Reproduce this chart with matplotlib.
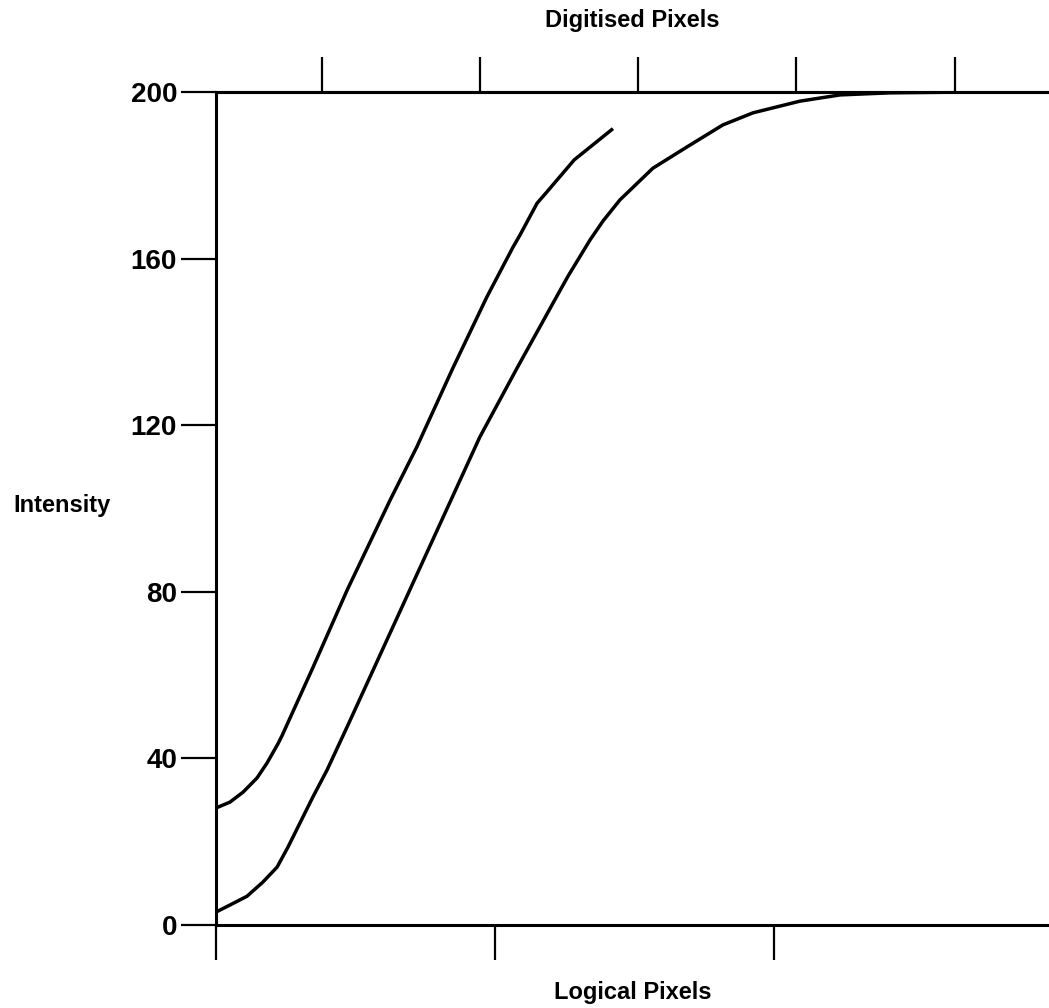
import matplotlib
matplotlib.use("Agg")
import matplotlib.pyplot as plt

my_dpi = 100
plt.rcParams['font.family'] = ['Liberation Sans', 'DejaVu Sans']
plt.rcParams['font.weight'] = 'bold'

# curve data (logical pixels vs intensity)
upper_x = [0, 0.05, 0.097, 0.147, 0.183, 0.222, 0.237, 0.348, 0.47, 0.624,
           0.72, 0.849, 0.971, 1.065, 1.09, 1.151, 1.186, 1.284, 1.423]
upper_y = [28.1, 29.5, 31.9, 35.3, 38.9, 43.5, 45.5, 61.9, 80.4, 102,
           114.8, 133.7, 150.8, 162.8, 165.7, 173.3, 176, 183.7, 191.2]

lower_x = [0, 0.05, 0.111, 0.168, 0.219, 0.258, 0.301, 0.347, 0.398, 0.473,
           0.706, 0.946, 1.079, 1.208, 1.262, 1.341, 1.387, 1.448,
           1.566, 1.688, 1.817, 1.925, 2.093, 2.237, 2.416, 2.7, 2.99]
lower_y = [3.1, 4.8, 6.9, 10.3, 13.9, 18.7, 24.5, 30.7, 37.2, 48,
           82.1, 117.2, 133.7, 149.3, 155.8, 164.5, 169, 174.1,
           181.7, 186.8, 192.1, 195, 197.8, 199.3, 199.8, 200, 200]

y_ticks = [0, 40, 80, 120, 160, 200]
bottom_ticks = [0, 1, 2]
top_ticks = [0.38, 0.946, 1.513, 2.079, 2.649]

fig = plt.figure(figsize=(1049/my_dpi, 1008/my_dpi), dpi=my_dpi)
ax = fig.add_axes([216/1049, 1 - 925/1008, 1 - 216/1049, (925 - 92)/1008])

ax.plot(upper_x, upper_y, color='black', linewidth=2.5,
        solid_joinstyle='round', solid_capstyle='butt')
ax.plot(lower_x, lower_y, color='black', linewidth=2.5,
        solid_joinstyle='round', solid_capstyle='butt')

ax.set_xlim(0, 2.986)
ax.set_ylim(0, 200)

for side in ['left', 'bottom', 'top']:
    ax.spines[side].set_linewidth(2.2)
ax.spines['right'].set_visible(False)

ax.set_yticks(y_ticks)
ax.set_yticklabels([str(v) for v in y_ticks], fontsize=20, fontweight='bold')
ax.set_xticks(bottom_ticks)
ax.set_xticklabels([])
ax.tick_params(axis='both', direction='out', length=25, width=1.6, pad=3)

top = ax.secondary_xaxis('top')
top.set_xticks(top_ticks)
top.set_xticklabels([])
top.tick_params(direction='out', length=25, width=1.6)
top.spines['top'].set_linewidth(2.2)
top.set_xlabel('Digitised Pixels', fontsize=17, fontweight='bold', labelpad=18)

ax.set_xlabel('Logical Pixels', fontsize=17, fontweight='bold', labelpad=12)
ax.set_ylabel('Intensity', fontsize=17, fontweight='bold', rotation=0,
              ha='center', va='center')
ax.yaxis.set_label_coords(-0.185, 0.504)

fig.savefig('out.png', dpi=my_dpi)
